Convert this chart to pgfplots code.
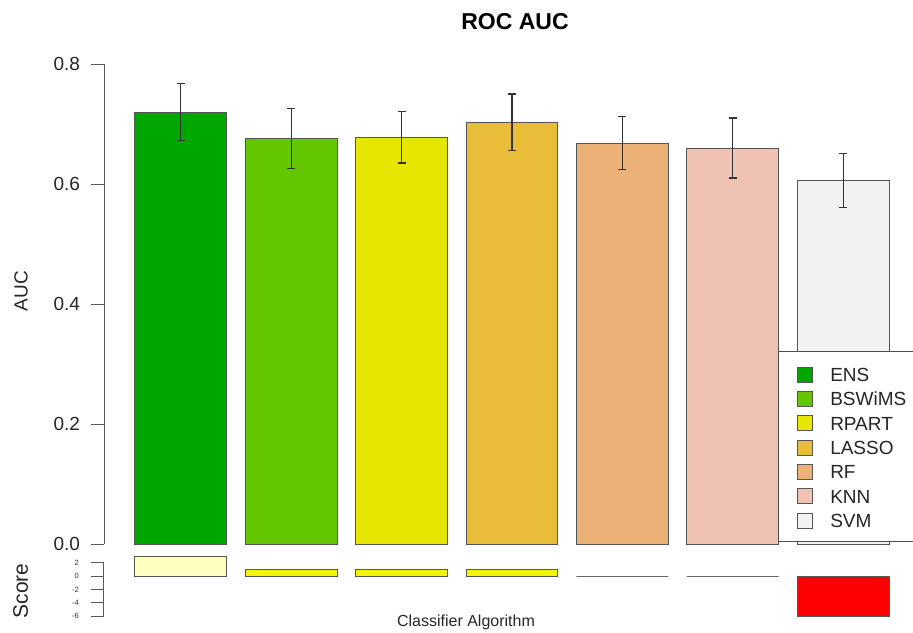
\documentclass[border=0pt]{standalone}
\usepackage{pgfplots}
\pgfplotsset{compat=1.18}
\usepackage{fontspec}
\setmainfont{Liberation Sans}
\definecolor{cENS}{HTML}{00A600}
\definecolor{cBSW}{HTML}{63C600}
\definecolor{cRPA}{HTML}{E6E600}
\definecolor{cLAS}{HTML}{E9BD3A}
\definecolor{cRF}{HTML}{ECB176}
\definecolor{cKNN}{HTML}{EFC2B3}
\definecolor{cSVM}{HTML}{F2F2F2}
\definecolor{sLight}{HTML}{FFFFC0}
\definecolor{sYel}{HTML}{F5F500}
\definecolor{sRed}{HTML}{FF0000}
\definecolor{edge}{HTML}{555555}
\pgfplotsset{
  mybar/.style={ybar, bar width=0.833, bar shift=0pt, draw=edge, line width=0.5pt, forget plot},
  myerr/.style={error bars/.cd, y dir=both, y explicit,
    error bar style={black!80, line width=0.55pt},
    error mark options={rotate=90, black!80, mark size=2pt, line width=0.55pt}},
}
\begin{document}
\begin{tikzpicture}
\begin{axis}[
  at={(52pt,44pt)}, anchor=south west, scale only axis,
  width=408pt, height=240pt,
  xmin=-0.697, xmax=6.697, ymin=0, ymax=0.8,
  axis y line=left, axis x line=bottom,
  axis line style={-, black!65, line width=0.5pt},
  x axis line style={draw=none},
  xtick=\empty,
  ytick={0,0.2,0.4,0.6,0.8},
  yticklabels={0.0,0.2,0.4,0.6,0.8},
  tick align=outside, major tick length=6.5pt,
  tick style={black!65, line width=0.5pt},
  yticklabel style={font=\fontsize{9.5}{10}\selectfont, text=black!85, xshift=-2pt},
  ylabel={AUC},
  ylabel style={at={(axis description cs:-0.1017,0.527)}, anchor=center, font=\fontsize{9.5}{10}\selectfont, text=black!85},
  title={\textbf{ROC AUC}},
  title style={at={(axis description cs:0.5037,1.063)}, anchor=center, font=\fontsize{11.5}{12}\selectfont},
  clip=false,
  legend image code/.code={\draw[#1] (0pt,-3.75pt) rectangle (7.5pt,3.75pt);},
  legend style={at={(axis description cs:0.8493,0.379)}, anchor=north west, draw=none, fill=none,
    inner sep=0pt, row sep=0pt, column sep=5.5pt,
    font=\fontsize{9.5}{10}\selectfont, text=black!85,
    nodes={text height=7pt, text depth=0pt, inner ysep=2.58pt, inner xsep=3pt}},
  legend cell align=left,
]
\addplot[mybar, fill=cENS, myerr] coordinates {(0,0.720) +- (0,0.047)};
\addplot[mybar, fill=cBSW, myerr] coordinates {(1,0.676) +- (0,0.050)};
\addplot[mybar, fill=cRPA, myerr] coordinates {(2,0.678) +- (0,0.043)};
\addplot[mybar, fill=cLAS, myerr] coordinates {(3,0.703) +- (0,0.047)};
\addplot[mybar, fill=cRF,  myerr] coordinates {(4,0.668) +- (0,0.044)};
\addplot[mybar, fill=cKNN, myerr] coordinates {(5,0.660) +- (0,0.050)};
\addplot[mybar, fill=cSVM, myerr] coordinates {(6,0.606) +- (0,0.045)};
\draw[black!70, line width=0.5pt, fill=white] (axis description cs:0.826,0.402) rectangle (axis description cs:1.03,0.0048);
\addlegendimage{fill=cENS, draw=edge}\addlegendentry{ENS}
\addlegendimage{fill=cBSW, draw=edge}\addlegendentry{BSWiMS}
\addlegendimage{fill=cRPA, draw=edge}\addlegendentry{RPART}
\addlegendimage{fill=cLAS, draw=edge}\addlegendentry{LASSO}
\addlegendimage{fill=cRF, draw=edge}\addlegendentry{RF}
\addlegendimage{fill=cKNN, draw=edge}\addlegendentry{KNN}
\addlegendimage{fill=cSVM, draw=edge}\addlegendentry{SVM}
\end{axis}
\begin{axis}[
  at={(52pt,8pt)}, anchor=south west, scale only axis,
  width=408pt, height=26.65pt,
  xmin=-0.697, xmax=6.697, ymin=-6, ymax=2,
  axis y line=left, axis x line=bottom,
  axis line style={-, black!65, line width=0.5pt},
  x axis line style={draw=none},
  xtick=\empty,
  ytick={-6,-4,-2,0,2},
  yticklabels={-6,-4,-2,0,2},
  tick align=outside, major tick length=6.5pt,
  tick style={black!65, line width=0.5pt},
  yticklabel style={font=\fontsize{3.8}{4}\selectfont, text=black!80, xshift=-2.5pt},
  ylabel={Score},
  ylabel style={at={(axis description cs:-0.1023,0.469)}, anchor=center, font=\fontsize{10.5}{11}\selectfont, text=black!85},
  xlabel={Classifier Algorithm},
  xlabel style={at={(axis description cs:0.4436,-0.1126)}, anchor=center, font=\fontsize{8}{9}\selectfont, text=black!85},
  clip=false,
]
\addplot[mybar, fill=sLight] coordinates {(0,3)};
\addplot[mybar, fill=sYel] coordinates {(1,1)};
\addplot[mybar, fill=sYel] coordinates {(2,1)};
\addplot[mybar, fill=sYel] coordinates {(3,1)};
\addplot[mybar, fill=white, draw=black!60] coordinates {(4,0)};
\addplot[mybar, fill=white, draw=black!60] coordinates {(5,0)};
\addplot[mybar, fill=sRed] coordinates {(6,-6)};
\end{axis}
\pgfresetboundingbox
\useasboundingbox (0,0) rectangle (456.5pt,316pt);
\end{tikzpicture}
\end{document}
